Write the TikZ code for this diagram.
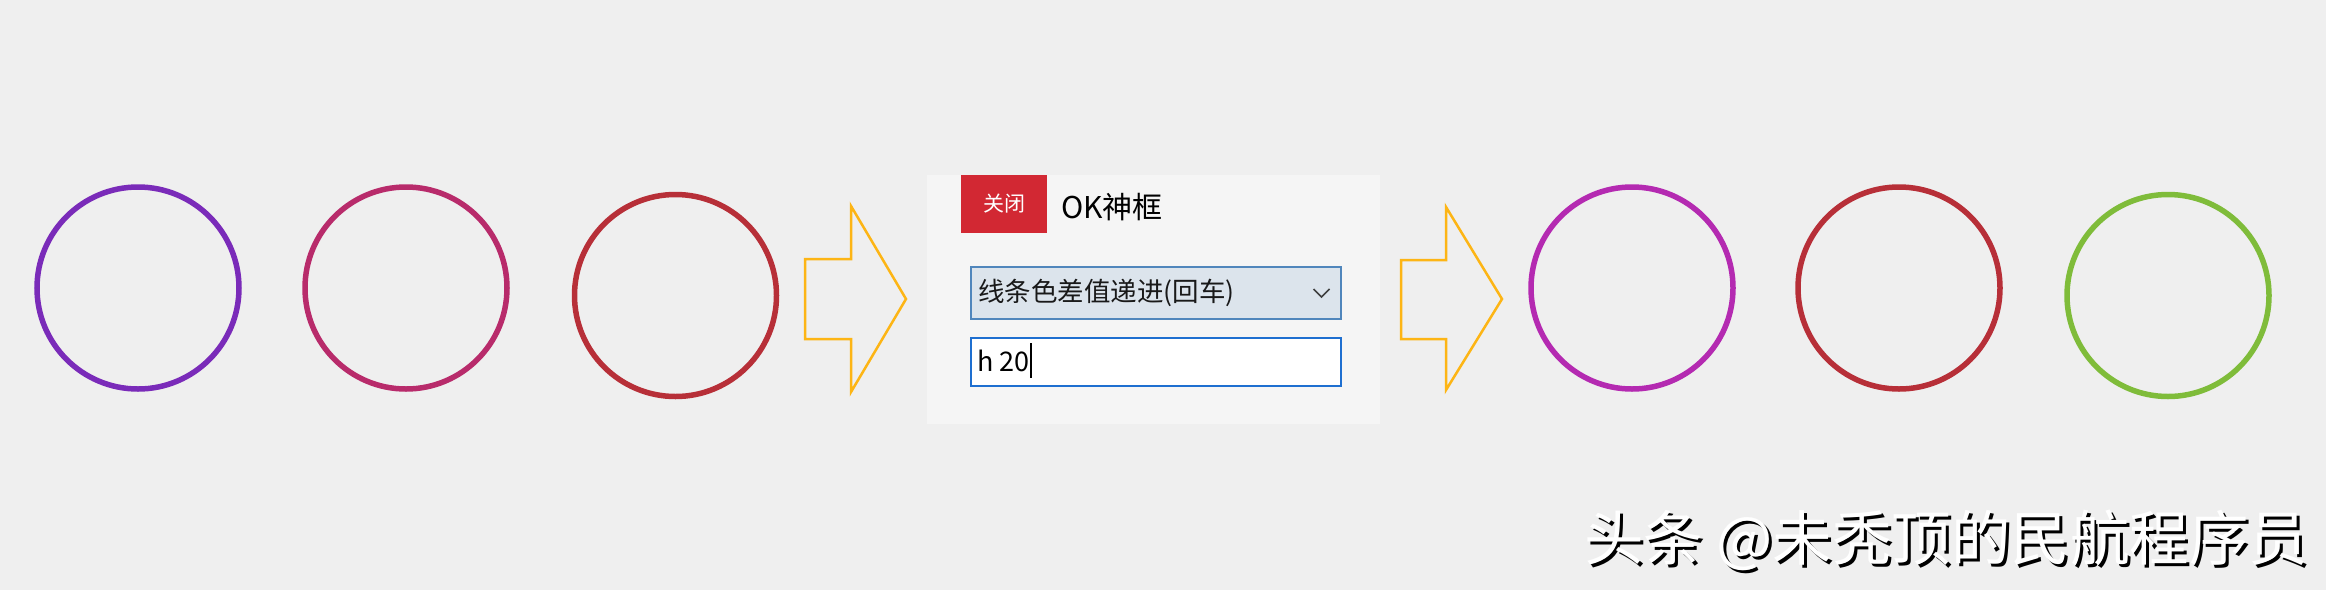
\documentclass[tikz,border=0pt]{standalone}
\usepackage{fontspec}
\setmainfont{Noto Sans CJK SC}
\usetikzlibrary{calc}
\definecolor{bg}{HTML}{EFEFEF}
\definecolor{panelbg}{HTML}{F5F5F5}
\definecolor{cPurple}{HTML}{7A2BB9}
\definecolor{cRose}{HTML}{B82B6B}
\definecolor{cRed}{HTML}{B72F38}
\definecolor{cMagenta}{HTML}{B42AB1}
\definecolor{cGreen}{HTML}{7FBC3A}
\definecolor{arrowc}{HTML}{FDB515}
\definecolor{btnred}{HTML}{D22833}
\definecolor{combofill}{HTML}{DCE4EC}
\definecolor{comboline}{HTML}{5086BC}
\definecolor{editline}{HTML}{1E6FD0}
\tikzset{
  ring/.style={circle, draw=#1, line width=5.5pt, minimum size=202pt, inner sep=0pt},
  bigarrow/.style={draw=arrowc, line width=2.5pt, line join=miter, fill=none},
}
\begin{document}
\begin{tikzpicture}[x=1pt,y=-1pt]
\useasboundingbox[fill=bg] (0,0) rectangle (2326,590);
% circles
\node[ring=cPurple] (c1) at (138,288) {};
\node[ring=cRose] (c2) at (406,288) {};
\node[ring=cRed] (c3) at (675.5,295.5) {};
\node[ring=cMagenta] (c4) at (1632,288) {};
\node[ring=cRed] (c5) at (1899,288) {};
\node[ring=cGreen] (c6) at (2168,295.5) {};
% arrow 1
\draw[bigarrow] (805,259) -- (851,259) -- (851,206) -- (906,299) -- (851,392) -- (851,339) -- (805,339) -- cycle;
% arrow 2
\draw[bigarrow] (1401,260) -- (1446,260) -- (1446,207) -- (1502,299) -- (1446,390) -- (1446,339) -- (1401,339) -- cycle;
% panel
\fill[panelbg] (927,175) rectangle (1380,424);
\node[fill=btnred, minimum width=86pt, minimum height=57.5pt, inner sep=0pt, anchor=north west, text=white, font=\fontsize{21}{24}\selectfont] (btn) at (961,175) {关闭};
\node[anchor=west, inner sep=0pt, font=\fontsize{30}{34}\selectfont, text=black] (title) at (1061,207) {OK神框};
\node[draw=comboline, fill=combofill, line width=1.8pt, minimum width=370pt, minimum height=52pt, inner sep=0pt, anchor=north west] (combo) at (970,266) {};
\node[anchor=west, inner sep=0pt, font=\fontsize{26.5}{30}\selectfont, text=black!90] (combotxt) at (978,293) {线条色差值递进(回车)};
\coordinate (chev) at (1321.5,293);
\draw[line width=1.6pt, black!75] ($(chev)+(-8,-4)$) -- ($(chev)+(0,4)$) -- ($(chev)+(8,-4)$);
\node[draw=editline, fill=white, line width=2pt, minimum width=370pt, minimum height=48pt, inner sep=0pt, anchor=north west] (edit) at (970,337) {};
\node[anchor=west, inner sep=0pt, font=\fontsize{27}{32}\selectfont, text=black] (edittxt) at (977,361) {h 20};
\coordinate (curtop) at (1031,343);
\coordinate (curbot) at (1031,378);
\draw[line width=2pt, black] (curtop) -- (curbot);
% watermark
\node[anchor=west, inner sep=0pt, font=\fontsize{59.5}{64}\selectfont, text=black] (wmshadow) at (1587,543) {头条 @未秃顶的民航程序员};
\node[anchor=west, inner sep=0pt, font=\fontsize{59.5}{64}\selectfont, text=white] (wm) at (1584,540) {头条 @未秃顶的民航程序员};
\end{tikzpicture}
\end{document}
